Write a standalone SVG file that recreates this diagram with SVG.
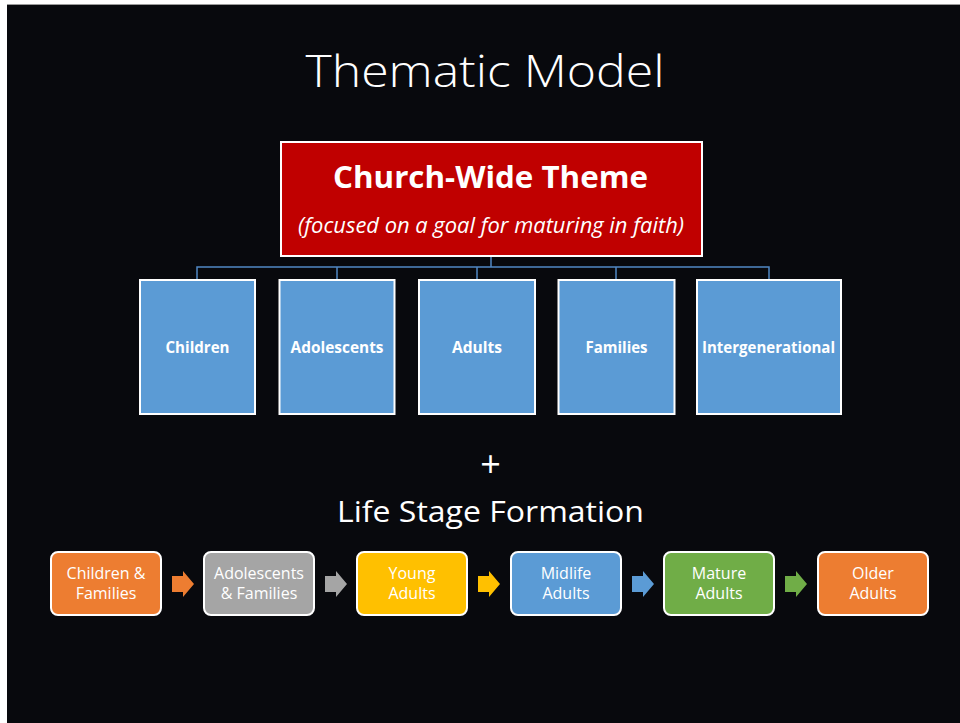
<svg xmlns="http://www.w3.org/2000/svg" width="960" height="723" viewBox="0 0 960 723">
<style>
  .t { font-family: "Open Sans", "Liberation Sans", sans-serif; fill: #FFFFFF; text-anchor: middle; }
  .box { fill: #5B9BD5; stroke: #FFFFFF; stroke-width: 2; }
  .lbl { font-family: "Open Sans", "Liberation Sans", sans-serif; font-weight: bold; font-size: 16.5px; fill: #FFFFFF; text-anchor: middle; }
  .stage { stroke: #FFFFFF; stroke-width: 2; }
  .sl { font-family: "Open Sans", "Liberation Sans", sans-serif; font-size: 16px; fill: #FFFFFF; text-anchor: middle; }
  .conn { fill: none; stroke: #5088C4; stroke-width: 1.5; }
</style>
<rect x="0" y="0" width="960" height="723" fill="#FFFFFF"/>
<rect x="7" y="4" width="953" height="719" fill="#08090D"/>
<line x1="7" y1="4.5" x2="960" y2="4.5" stroke="#9A9A9A" stroke-width="1"/>

<text class="t" x="485" y="87" font-size="45" font-weight="300" textLength="359" lengthAdjust="spacingAndGlyphs">Thematic Model</text>

<g id="connectors">
  <path class="conn" d="M491 256 V267 M197 279 V267 H769 V279 M337 267 V279 M477 267 V279 M616 267 V279"/>
</g>

<g id="theme">
  <rect x="281" y="142" width="421" height="114" fill="#C00000" stroke="#FFFFFF" stroke-width="2"/>
  <text class="t" x="490.5" y="188" font-size="31" font-weight="bold" textLength="315" lengthAdjust="spacingAndGlyphs">Church-Wide Theme</text>
  <text class="t" x="491" y="233" font-size="21" font-style="italic" textLength="386" lengthAdjust="spacingAndGlyphs">(focused on a goal for maturing in faith)</text>
</g>

<g id="children"><rect class="box" x="140" y="280" width="115" height="134"/><text class="lbl" x="197.5" y="353" textLength="64" lengthAdjust="spacingAndGlyphs">Children</text></g>
<g id="adolescents"><rect class="box" x="279.5" y="280" width="115" height="134"/><text class="lbl" x="337" y="353" textLength="93" lengthAdjust="spacingAndGlyphs">Adolescents</text></g>
<g id="adults"><rect class="box" x="419" y="280" width="116" height="134"/><text class="lbl" x="477" y="353" textLength="50" lengthAdjust="spacingAndGlyphs">Adults</text></g>
<g id="families"><rect class="box" x="558.5" y="280" width="116" height="134"/><text class="lbl" x="616.5" y="353" textLength="62" lengthAdjust="spacingAndGlyphs">Families</text></g>
<g id="intergenerational"><rect class="box" x="697" y="280" width="144" height="134"/><text class="lbl" x="768.5" y="353" textLength="133" lengthAdjust="spacingAndGlyphs">Intergenerational</text></g>

<text class="t" x="490.5" y="477" font-size="36">+</text>
<text class="t" x="490.5" y="522" font-size="29" textLength="307" lengthAdjust="spacingAndGlyphs">Life Stage Formation</text>

<g id="arrows">
  <polygon fill="#ED7D31" points="172,576 183,576 183,571 194,584 183,597 183,592 172,592"/>
  <polygon fill="#A5A5A5" points="325,576 336,576 336,571 347,584 336,597 336,592 325,592"/>
  <polygon fill="#FFC000" points="478,576 489,576 489,571 500,584 489,597 489,592 478,592"/>
  <polygon fill="#5B9BD5" points="632,576 643,576 643,571 654,584 643,597 643,592 632,592"/>
  <polygon fill="#70AD47" points="785,576 796,576 796,571 807,584 796,597 796,592 785,592"/>
</g>

<g id="children-families"><rect class="stage" fill="#ED7D31" x="51" y="552" width="110" height="63" rx="7"/><text class="sl" x="106" y="579">Children &amp;</text><text class="sl" x="106" y="599">Families</text></g>
<g id="adolescents-families"><rect class="stage" fill="#A5A5A5" x="204" y="552" width="110" height="63" rx="7"/><text class="sl" x="259" y="579">Adolescents</text><text class="sl" x="259" y="599">&amp; Families</text></g>
<g id="young-adults"><rect class="stage" fill="#FFC000" x="357" y="552" width="110" height="63" rx="7"/><text class="sl" x="412" y="579">Young</text><text class="sl" x="412" y="599">Adults</text></g>
<g id="midlife-adults"><rect class="stage" fill="#5B9BD5" x="511" y="552" width="110" height="63" rx="7"/><text class="sl" x="566" y="579">Midlife</text><text class="sl" x="566" y="599">Adults</text></g>
<g id="mature-adults"><rect class="stage" fill="#70AD47" x="664" y="552" width="110" height="63" rx="7"/><text class="sl" x="719" y="579">Mature</text><text class="sl" x="719" y="599">Adults</text></g>
<g id="older-adults"><rect class="stage" fill="#ED7D31" x="818" y="552" width="110" height="63" rx="7"/><text class="sl" x="873" y="579">Older</text><text class="sl" x="873" y="599">Adults</text></g>
</svg>
